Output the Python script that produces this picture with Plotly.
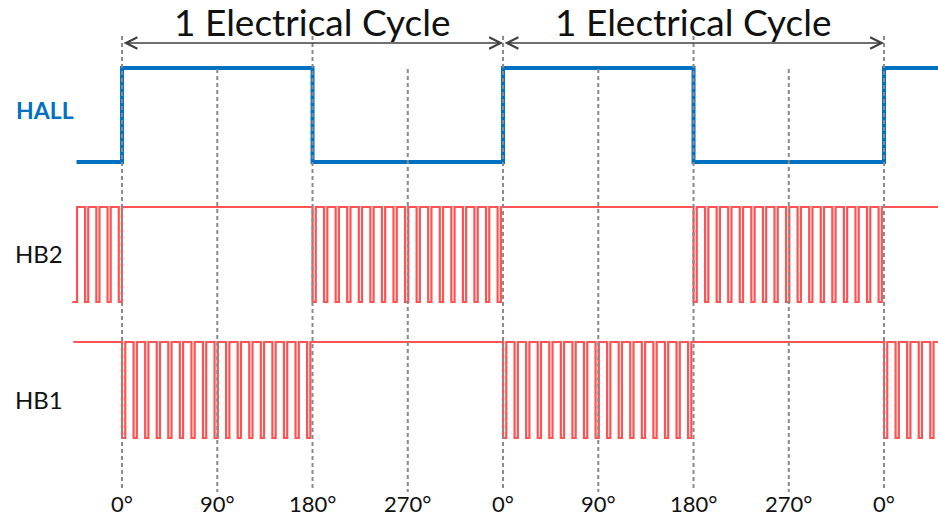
import plotly.graph_objects as go

# ---------------- data ----------------
tick_deg = [0, 90, 180, 270, 360, 450, 540, 630, 720]
tick_labels = ["0°", "90°", "180°", "270°", "0°", "90°", "180°", "270°", "0°"]
boundary_deg = [0, 180, 360, 540, 720]      # long dashed guides (commutation points)
quarter_deg = [90, 270, 450, 630]           # shorter dashed guides
cycle_starts = [0, 360]
cycle_ends = [360, 720]
cycle_label = "1 Electrical Cycle"

hall_edges = [-43, 0, 180, 360, 540, 720, 771]
hall_levels = [0, 1, 0, 1, 0, 1]

# segments: (start_deg, end_deg, state, pwm_period_deg, order)
hb2_segments = [(-47, -42.5, "L", None, None),
                (-42.5, 0, "P", 10.6, "HL"),
                (0, 180, "H", None, None),
                (180, 360, "P", 10.93, "LH"),
                (360, 540, "H", None, None),
                (540, 720, "P", 10.93, "LH"),
                (720, 771, "H", None, None)]
hb1_segments = [(-46, 0, "H", None, None),
                (0, 180, "P", 10.93, "LH"),
                (180, 360, "H", None, None),
                (360, 540, "P", 10.93, "LH"),
                (540, 720, "H", None, None),
                (720, 771, "P", 10.93, "LH")]
pwm_low_fraction = 0.28

# ---------------- layout constants (pixel-mapped y axis) ----------------
W, H = 938, 521
X_RANGE = [-115.3, 771.0]
HALL_BASE, HALL_AMP = 162, -94
HB2_BASE, HB2_AMP = 302, -95
HB1_BASE, HB1_AMP = 438, -96
BLUE = "#0070C0"
RED = "#FF5252"
GRAY = "#8a8a8a"
FONT = "Lato, Open Sans, sans-serif"


def expand(segments):
    xs, ys = [], []
    for s, e, st, p, order in segments:
        if st == "H":
            xs.append(s); ys.append(1)
        elif st == "L":
            xs.append(s); ys.append(0)
        else:
            t = s
            while t < e - 1e-9:
                if order == "LH":
                    first, second, cut = 0, 1, pwm_low_fraction
                else:
                    first, second, cut = 1, 0, 1 - pwm_low_fraction
                xs.append(t); ys.append(first)
                m = t + cut * p
                if m < e:
                    xs.append(m); ys.append(second)
                t += p
    xs.append(segments[-1][1]); ys.append(ys[-1])
    return xs, ys


fig = go.Figure()

# HALL
hx = list(hall_edges)
hy = list(hall_levels) + [hall_levels[-1]]
fig.add_trace(go.Scatter(x=hx, y=[HALL_BASE + HALL_AMP * v for v in hy],
                         mode="lines", line=dict(color=BLUE, width=4, shape="hv"),
                         hoverinfo="skip"))

x2, y2 = expand(hb2_segments)
fig.add_trace(go.Scatter(x=x2, y=[HB2_BASE + HB2_AMP * v for v in y2],
                         mode="lines", line=dict(color=RED, width=2.2, shape="hv"),
                         hoverinfo="skip"))
x1, y1 = expand(hb1_segments)
fig.add_trace(go.Scatter(x=x1, y=[HB1_BASE + HB1_AMP * v for v in y1],
                         mode="lines", line=dict(color=RED, width=2.2, shape="hv"),
                         hoverinfo="skip"))

shapes = []
for d in boundary_deg:
    shapes.append(dict(type="line", x0=d, x1=d, y0=36, y1=490, xref="x", yref="y",
                       layer="above", line=dict(color=GRAY, width=2, dash="4px,3px")))
for d in quarter_deg:
    shapes.append(dict(type="line", x0=d, x1=d, y0=69, y1=492, xref="x", yref="y",
                       layer="above", line=dict(color=GRAY, width=2, dash="4px,3px")))

annotations = []
for s, e in zip(cycle_starts, cycle_ends):
    annotations.append(dict(x=e, y=43, ax=s, ay=43, xref="x", yref="y", axref="x", ayref="y",
                            text="", showarrow=True, arrowside="end+start",
                            arrowhead=5, startarrowhead=5, arrowsize=1.4, startarrowsize=1.4,
                            arrowwidth=1.6, arrowcolor="#404040"))
    annotations.append(dict(x=(s + e) / 2, y=21, xref="x", yref="y", text=cycle_label,
                            showarrow=False, font=dict(family=FONT, size=37, color="#111111")))
for d, t in zip(tick_deg, tick_labels):
    annotations.append(dict(x=d, y=503, xref="x", yref="y", text=t, showarrow=False,
                            font=dict(family=FONT, size=22, color="#111111")))

annotations.append(dict(x=14 / W, y=110, xref="paper", yref="y", xanchor="left", text="<b>HALL</b>",
                        showarrow=False, font=dict(family=FONT, size=23, color=BLUE)))
annotations.append(dict(x=13 / W, y=253, xref="paper", yref="y", xanchor="left", text="HB2",
                        showarrow=False, font=dict(family=FONT, size=24, color="#111111")))
annotations.append(dict(x=13 / W, y=399, xref="paper", yref="y", xanchor="left", text="HB1",
                        showarrow=False, font=dict(family=FONT, size=24, color="#111111")))

fig.update_layout(
    width=W, height=H, margin=dict(l=0, r=0, t=0, b=0),
    paper_bgcolor="white", plot_bgcolor="white", showlegend=False,
    xaxis=dict(range=X_RANGE, visible=False, fixedrange=True),
    yaxis=dict(range=[H, 0], visible=False, fixedrange=True),
    shapes=shapes, annotations=annotations,
)

fig.write_html("out.html", config={"displayModeBar": False},
               post_script="document.body.style.margin='0';document.body.style.overflow='hidden';")
